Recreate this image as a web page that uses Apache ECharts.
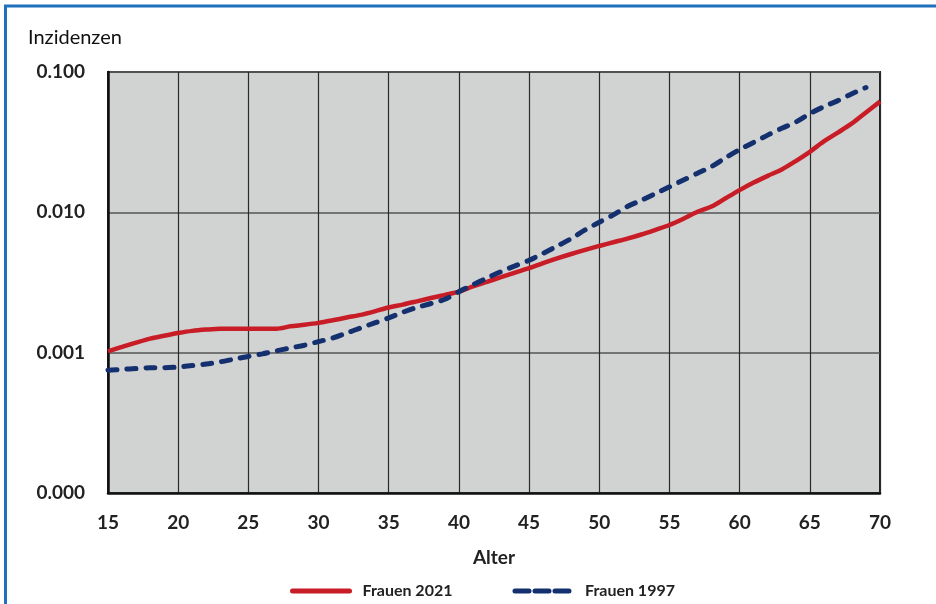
<!DOCTYPE html>
<html>
<head>
<meta charset="utf-8">
<script src="https://cdn.jsdelivr.net/npm/echarts@6/dist/echarts.min.js"></script>
<style>
html,body{margin:0;padding:0;background:#fff;}
#c{width:936px;height:604px;}
</style>
</head>
<body>
<div id="c"></div>
<script>
// Ages (x values)
const ages2021 = [15,16,17,18,19,20,21,22,23,24,25,26,27,28,29,30,31,32,33,34,35,36,37,38,39,40,41,42,43,44,45,46,47,48,49,50,51,52,53,54,55,56,57,58,59,60,61,62,63,64,65,66,67,68,69,70];
const frauen2021 = [0.00102,0.00110,0.00118,0.00126,0.00132,0.00138,0.00143,0.00146,0.00148,0.00148,0.00148,0.00148,0.00148,0.00154,0.00158,0.00163,0.00170,0.00178,0.00186,0.00197,0.00210,0.00220,0.00232,0.00245,0.00258,0.00272,0.00297,0.00320,0.00345,0.00372,0.00400,0.00435,0.00470,0.00505,0.00540,0.00576,0.00612,0.00650,0.00695,0.00750,0.00812,0.00900,0.0101,0.0110,0.0126,0.0144,0.0163,0.0182,0.0202,0.0232,0.0270,0.0320,0.0370,0.0430,0.0515,0.0615];
const ages1997 = [15,16,17,18,19,20,21,22,23,24,25,26,27,28,29,30,31,32,33,34,35,36,37,38,39,40,41,42,43,44,45,46,47,48,49,50,51,52,53,54,55,56,57,58,59,60,61,62,63,64,65,66,67,68,69];
const frauen1997 = [0.00075,0.00076,0.00077,0.00078,0.00078,0.00079,0.00081,0.00083,0.00086,0.00090,0.00094,0.00098,0.00103,0.00108,0.00113,0.00120,0.00127,0.00138,0.00150,0.00163,0.00177,0.00194,0.00210,0.00224,0.00240,0.00272,0.00305,0.00340,0.00378,0.00415,0.00455,0.00510,0.00575,0.00650,0.00750,0.00850,0.00960,0.0110,0.0122,0.0136,0.0152,0.0170,0.0190,0.0212,0.0245,0.0280,0.0315,0.0355,0.0397,0.0440,0.0505,0.0566,0.0625,0.0700,0.0775];
const seriesNames = ['Frauen 2021','Frauen 1997'];
const yTitle = 'Inzidenzen';
const xTitle = 'Alter';

const FONT = 'Lato, "Open Sans", sans-serif';
const RED = '#c81d26', BLUE = '#15306e';
const chart = echarts.init(document.getElementById('c'), null, {renderer:'canvas'});
chart.setOption({
  animation:false,
  backgroundColor:'#ffffff',
  title:{text:yTitle,left:23,top:23,textStyle:{fontFamily:FONT,fontSize:20,fontWeight:'normal',color:'#111'}},
  grid:{left:108,right:56,top:72,bottom:111,show:true,backgroundColor:'#d1d3d3',borderColor:'#222',borderWidth:2},
  legend:{
    left:285,top:578,itemWidth:57,itemHeight:10,itemGap:60,
    itemStyle:{opacity:0},
    data:[
      {name:seriesNames[0],lineStyle:{width:5,color:RED,type:'solid',cap:'round'}},
      {name:seriesNames[1],lineStyle:{width:5,color:BLUE,type:[14,6],cap:'round'}}
    ],
    textStyle:{fontFamily:FONT,fontSize:16,fontWeight:'bold',color:'#222',padding:[0,0,0,8]}
  },
  xAxis:{
    type:'value',min:15,max:70,interval:5,
    name:xTitle,nameLocation:'middle',nameGap:55,
    nameTextStyle:{fontFamily:FONT,fontSize:19,fontWeight:'bold',color:'#222'},
    axisLine:{show:true,lineStyle:{color:'#111',width:2.5}},
    axisTick:{show:false},
    axisLabel:{fontFamily:FONT,fontSize:19,fontWeight:'bold',color:'#222',margin:20},
    splitLine:{show:true,lineStyle:{color:'#2a2a2a',width:1.2}}
  },
  yAxis:{
    type:'log',logBase:10,min:0.0001,max:0.1,interval:1,
    axisLine:{show:true,lineStyle:{color:'#111',width:2.5}},
    axisTick:{show:false},
    minorTick:{show:false},
    axisLabel:{fontFamily:FONT,fontSize:19,fontWeight:'bold',color:'#222',margin:23,
      formatter:function(v){return v.toFixed(3);}},
    splitLine:{show:true,lineStyle:{color:'#555',width:1.5}}
  },
  series:[
    {name:seriesNames[0],type:'line',symbol:'none',smooth:0.3,
     data:ages2021.map((a,i)=>[a,frauen2021[i]]),
     lineStyle:{color:RED,width:4.5},itemStyle:{color:RED},z:3},
    {name:seriesNames[1],type:'line',symbol:'none',smooth:0.3,
     data:ages1997.map((a,i)=>[a,frauen1997[i]]),
     lineStyle:{color:BLUE,width:5,type:[9,10],cap:'round'},itemStyle:{color:BLUE},z:4}
  ],
  graphic:[
    {type:'line',shape:{x1:4,y1:6,x2:936,y2:6},style:{stroke:'#1f70bd',lineWidth:3}},
    {type:'line',shape:{x1:5.5,y1:5,x2:5.5,y2:604},style:{stroke:'#1f70bd',lineWidth:3}}
  ]
});
</script>
</body>
</html>
